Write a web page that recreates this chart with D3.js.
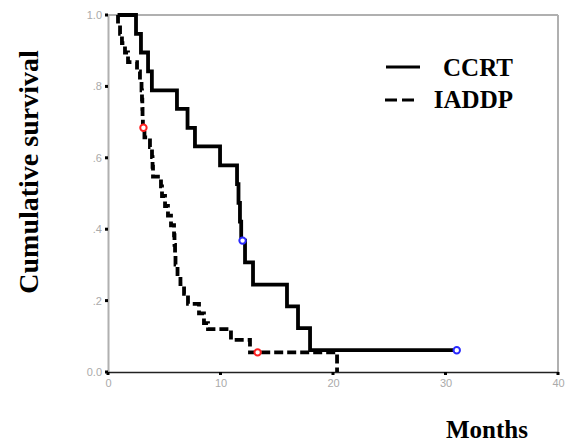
<!DOCTYPE html>
<html>
<head>
<meta charset="utf-8">
<script src="https://cdn.jsdelivr.net/npm/d3@7"></script>
<style>
  body { margin: 0; background: #fff; }
  svg { display: block; }
</style>
</head>
<body>
<div id="chart"></div>
<script>
// step points: months and cumulative survival
var ccrtTime = [0.9, 2.49, 2.93, 3.56, 3.9, 6.13, 7.07, 7.73, 9.96, 11.47, 11.6, 11.73, 11.84, 12.18, 12.89, 15.91, 16.89, 17.96, 31.0];
var ccrtSurv = [1.0, 0.947, 0.895, 0.842, 0.789, 0.737, 0.684, 0.632, 0.579, 0.526, 0.474, 0.421, 0.368, 0.307, 0.245, 0.184, 0.123, 0.061, 0.061];
var ccrtCensorTime = [11.96, 31.0];
var ccrtCensorSurv = [0.368, 0.061];

var iaddpTime = [0.85, 0.89, 1.07, 1.24, 1.51, 1.78, 2.58, 2.84, 2.98, 3.02, 3.05, 3.07, 3.1,
                 3.24, 3.73, 3.91, 3.96, 4.0, 4.71, 4.8, 5.07, 5.33, 5.6, 5.87, 5.91, 5.96, 6.0,
                 6.18, 6.44, 6.76, 7.11, 8.09, 8.53, 8.89, 10.93, 12.62, 20.36];
var iaddpSurv = [1.0, 0.974, 0.947, 0.921, 0.895, 0.868, 0.842, 0.816, 0.789, 0.763, 0.737, 0.711, 0.684,
                 0.657, 0.630, 0.602, 0.575, 0.547, 0.520, 0.493, 0.465, 0.438, 0.411, 0.383, 0.356, 0.328, 0.301,
                 0.274, 0.246, 0.219, 0.191, 0.164, 0.137, 0.120, 0.090, 0.055, 0.0];
var iaddpCensorTime = [3.15, 13.3];
var iaddpCensorSurv = [0.684, 0.055];

var xTicks = [0, 10, 20, 30, 40];
var yTicks = [0, 0.2, 0.4, 0.6, 0.8, 1.0];
var yTickLabels = ["0.0", ".2", ".4", ".6", ".8", "1.0"];

var width = 569, height = 446;
var svg = d3.select("#chart").append("svg")
    .attr("width", width)
    .attr("height", height);

var x = d3.scaleLinear().domain([0, 40]).range([108, 558]);
var y = d3.scaleLinear().domain([0, 1]).range([372, 15]);

// frame (gray top/right/left), black bottom
svg.append("line").attr("x1", x(0)).attr("x2", x(40)).attr("y1", y(1)).attr("y2", y(1))
    .attr("stroke", "#b0b0b0").attr("stroke-width", 2);
svg.append("line").attr("x1", x(40)).attr("x2", x(40)).attr("y1", y(1)).attr("y2", y(0))
    .attr("stroke", "#b0b0b0").attr("stroke-width", 2);

var yAxis = d3.axisLeft(y).tickValues(yTicks).tickSize(0).tickPadding(6)
    .tickFormat(function(d, i) { return yTickLabels[i]; });
var gy = svg.append("g").attr("transform", "translate(" + x(0) + ",0)").call(yAxis);
gy.select(".domain").attr("stroke", "#b0b0b0").attr("stroke-width", 2);
gy.selectAll("text").attr("fill", "#aaaaaa").style("font-family", "Liberation Sans, Arial, sans-serif").style("font-size", "11px");

var xAxis = d3.axisBottom(x).tickValues(xTicks).tickSize(0).tickPadding(7)
    .tickFormat(d3.format("d"));
var gx = svg.append("g").attr("transform", "translate(0," + y(0) + ")").call(xAxis);
gx.select(".domain").attr("stroke", "#222").attr("stroke-width", 1.5);
gx.selectAll("text").attr("fill", "#aaaaaa").style("font-family", "Liberation Sans, Arial, sans-serif").style("font-size", "11px");

// tick dots
svg.selectAll(".ydot").data(yTicks).enter().append("rect")
    .attr("x", x(0) - 3).attr("y", function(d) { return y(d) - 1.5; })
    .attr("width", 3).attr("height", 3).attr("fill", "#000");
svg.selectAll(".xdot").data(xTicks).enter().append("rect")
    .attr("x", function(d) { return x(d) - 1.5; }).attr("y", y(0))
    .attr("width", 3).attr("height", 3).attr("fill", "#000");

var line = d3.line()
    .x(function(d) { return x(d[0]); })
    .y(function(d) { return y(d[1]); })
    .curve(d3.curveStepAfter);

svg.append("path")
    .datum(d3.zip(iaddpTime, iaddpSurv))
    .attr("d", line)
    .attr("fill", "none").attr("stroke", "#000").attr("stroke-width", 3.8)
    .attr("stroke-dasharray", "9,4");

svg.append("path")
    .datum(d3.zip(ccrtTime, ccrtSurv))
    .attr("d", line)
    .attr("fill", "none").attr("stroke", "#000").attr("stroke-width", 3.8);

svg.selectAll(".cc").data(d3.zip(ccrtCensorTime, ccrtCensorSurv)).enter().append("circle")
    .attr("cx", function(d) { return x(d[0]); }).attr("cy", function(d) { return y(d[1]); })
    .attr("r", 3.2).attr("fill", "#fff").attr("stroke", "#2a2aff").attr("stroke-width", 2);
svg.selectAll(".ic").data(d3.zip(iaddpCensorTime, iaddpCensorSurv)).enter().append("circle")
    .attr("cx", function(d) { return x(d[0]); }).attr("cy", function(d) { return y(d[1]); })
    .attr("r", 3.2).attr("fill", "#fff").attr("stroke", "#ff2020").attr("stroke-width", 2);

// legend
svg.append("line").attr("x1", 386).attr("x2", 420).attr("y1", 67).attr("y2", 67)
    .attr("stroke", "#000").attr("stroke-width", 3);
svg.append("line").attr("x1", 385).attr("x2", 414).attr("y1", 100).attr("y2", 100)
    .attr("stroke", "#000").attr("stroke-width", 3).attr("stroke-dasharray", "12,5");
svg.append("text").attr("x", 513).attr("y", 76).attr("text-anchor", "end")
    .style("font-family", "Liberation Serif, Times New Roman, serif").style("font-weight", "bold")
    .style("font-size", "25px").text("CCRT");
svg.append("text").attr("x", 513).attr("y", 108).attr("text-anchor", "end")
    .style("font-family", "Liberation Serif, Times New Roman, serif").style("font-weight", "bold")
    .style("font-size", "25px").text("IADDP");

// axis titles
svg.append("text")
    .attr("transform", "translate(38,172) rotate(-90)")
    .attr("text-anchor", "middle")
    .style("font-family", "Liberation Serif, Times New Roman, serif").style("font-weight", "bold")
    .style("font-size", "28px").text("Cumulative survival");
svg.append("text").attr("x", 487).attr("y", 438).attr("text-anchor", "middle")
    .style("font-family", "Liberation Serif, Times New Roman, serif").style("font-weight", "bold")
    .style("font-size", "25px").text("Months");
</script>
</body>
</html>
